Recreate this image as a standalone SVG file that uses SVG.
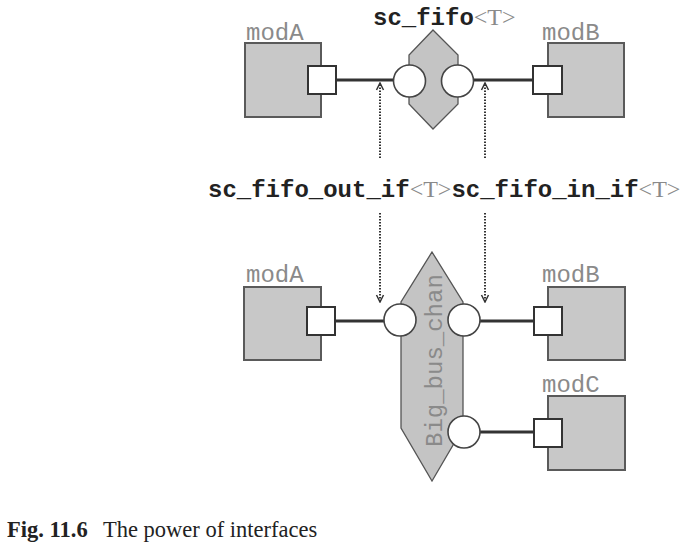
<svg xmlns="http://www.w3.org/2000/svg" width="700" height="548" viewBox="0 0 700 548">
<style>
.mod{fill:#c8c8c8;stroke:#5a5a5a;stroke-width:2}
.port{fill:#fff;stroke:#333;stroke-width:2}
.ifc{fill:#fff;stroke:#444;stroke-width:1.6}
.chan{fill:#c4c4c4;stroke:#555;stroke-width:1.3}
.wire{stroke:#333;stroke-width:3;fill:none}
.dot{stroke:#333;stroke-width:2;stroke-dasharray:1.5,1.5;fill:none}
.lbl{font-family:"Liberation Mono",monospace;font-size:24px;fill:#8a8a8a}
.bold{font-family:"Liberation Mono",monospace;font-size:24px;font-weight:bold;fill:#222}
.tp{font-family:"Liberation Serif",serif;font-size:24px;fill:#8a8a8a}
.cap{font-family:"Liberation Serif",serif;font-size:22.5px;fill:#222}
</style>
<defs>
<marker id="ah" markerWidth="10" markerHeight="10" refX="9" refY="5" orient="auto" markerUnits="userSpaceOnUse" viewBox="0 0 10 10">
<path d="M2,1.5 L9,5 L2,8.5" fill="none" stroke="#333" stroke-width="1.5"/>
</marker>
</defs>

<g id="channel-top">
<polygon class="chan" points="433,30 458,55 458,104 433,129 409,104 409,55"/>
<text x="373" y="25"><tspan class="bold">sc_fifo</tspan><tspan class="tp">&lt;T&gt;</tspan></text>
</g>
<g id="channel-bottom">
<polygon class="chan" points="432,252 463,302 463,428 432,481 401,428 401,302"/>
<text class="lbl" transform="translate(442,447) rotate(-90)">Big_bus_chan</text>
</g>

<g id="connectors">
<line class="wire" x1="336" y1="80" x2="394" y2="80"/>
<line class="wire" x1="473" y1="80" x2="533" y2="80"/>
<line class="wire" x1="335" y1="321" x2="384" y2="321"/>
<line class="wire" x1="480" y1="321" x2="534" y2="321"/>
<line class="wire" x1="480" y1="432" x2="534" y2="432"/>
<line class="dot" x1="380" y1="158" x2="380" y2="83" marker-end="url(#ah)"/>
<line class="dot" x1="485" y1="158" x2="485" y2="83" marker-end="url(#ah)"/>
<line class="dot" x1="380" y1="213" x2="380" y2="302" marker-end="url(#ah)"/>
<line class="dot" x1="485" y1="213" x2="485" y2="302" marker-end="url(#ah)"/>
</g>

<g id="if-top-out"><circle class="ifc" cx="409.5" cy="81" r="16"/></g>
<g id="if-top-in"><circle class="ifc" cx="457.5" cy="81" r="16"/></g>
<g id="if-bot-a"><circle class="ifc" cx="400" cy="320" r="16"/></g>
<g id="if-bot-b"><circle class="ifc" cx="464" cy="320" r="16"/></g>
<g id="if-bot-c"><circle class="ifc" cx="464" cy="432" r="16"/></g>

<g id="modA-top">
<text class="lbl" x="246" y="40">modA</text>
<rect class="mod" x="245" y="43" width="76" height="74"/>
<rect class="port" x="308" y="66" width="28" height="28"/>
</g>
<g id="modB-top">
<text class="lbl" x="542" y="40">modB</text>
<rect class="mod" x="548" y="43" width="76" height="74"/>
<rect class="port" x="533" y="66" width="29" height="28"/>
</g>

<g id="interface-labels">
<text x="208" y="197"><tspan class="bold">sc_fifo_out_if</tspan><tspan class="tp">&lt;T&gt;</tspan><tspan class="bold">sc_fifo_in_if</tspan><tspan class="tp">&lt;T&gt;</tspan></text>
</g>

<g id="modA-bottom">
<text class="lbl" x="246" y="282">modA</text>
<rect class="mod" x="244" y="287" width="77" height="73"/>
<rect class="port" x="307" y="307" width="28" height="28"/>
</g>
<g id="modB-bottom">
<text class="lbl" x="542" y="282">modB</text>
<rect class="mod" x="548" y="287" width="77" height="73"/>
<rect class="port" x="534" y="307" width="28" height="28"/>
</g>
<g id="modC-bottom">
<text class="lbl" x="542" y="392">modC</text>
<rect class="mod" x="548" y="396" width="77" height="74"/>
<rect class="port" x="534" y="419" width="28" height="28"/>
</g>

<g id="caption">
<text class="cap" x="7" y="537" font-weight="bold">Fig. 11.6</text>
<text class="cap" x="103" y="537">The power of interfaces</text>
</g>
</svg>
